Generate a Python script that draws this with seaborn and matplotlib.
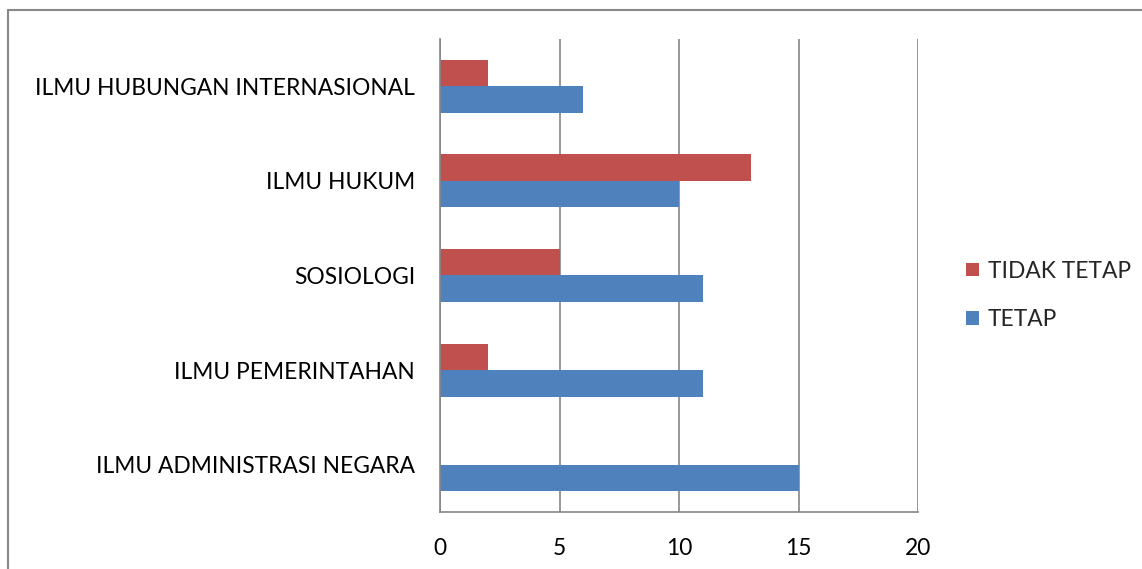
import matplotlib
matplotlib.use("Agg")
import matplotlib.pyplot as plt
import seaborn as sns
import pandas as pd
from matplotlib.lines import Line2D

categories = ["ILMU HUBUNGAN INTERNASIONAL", "ILMU HUKUM", "SOSIOLOGI",
              "ILMU PEMERINTAHAN", "ILMU ADMINISTRASI NEGARA"]
tidak_tetap = [2, 13, 5, 2, 0]
tetap = [6, 10, 11, 11, 15]
series_names = ["TIDAK TETAP", "TETAP"]
x_ticks = [0, 5, 10, 15, 20]

df = pd.DataFrame({
    "kategori": categories * 2,
    "nilai": tidak_tetap + tetap,
    "status": [series_names[0]] * len(categories) + [series_names[1]] * len(categories),
})

sns.set_style("white")
plt.rcParams["font.family"] = ["Lato", "DejaVu Sans"]

fig = plt.figure(figsize=(11.42, 5.69), dpi=100)
ax = fig.add_axes([0.3853, 0.1002, 0.4186, 0.8313])

sns.barplot(data=df, y="kategori", x="nilai", hue="status", order=categories,
            hue_order=series_names, palette=["#C0504D", "#4F81BD"],
            orient="h", width=0.56, linewidth=0, saturation=1, ax=ax)

ax.set_xlim(0, 20)
ax.set_xticks(x_ticks)
ax.set_xticklabels([str(t) for t in x_ticks])
ax.xaxis.grid(True, color="#868686", linewidth=1.2)
ax.yaxis.grid(False)
ax.set_axisbelow(True)
ax.set_xlabel("")
ax.set_ylabel("")
for s in ["top", "right"]:
    ax.spines[s].set_visible(False)
for s in ["left", "bottom"]:
    ax.spines[s].set_color("#868686")
    ax.spines[s].set_linewidth(1.2)
ax.tick_params(axis="y", length=0, pad=18, labelsize=16.4, colors="black")
ax.tick_params(axis="x", length=0, pad=19, labelsize=16.4, colors="black")

leg = ax.legend(loc="center left", bbox_to_anchor=(1.058, 0.458), frameon=False,
                fontsize=16.4, handlelength=0.55, handleheight=0.55,
                handletextpad=0.4, labelspacing=1.2)

# outer frame lines
fig.add_artist(Line2D([8 / 1142, 8 / 1142], [0, 1 - 10 / 569], transform=fig.transFigure,
                      color="#888888", linewidth=1.5))
fig.add_artist(Line2D([8 / 1142, 1], [1 - 10 / 569, 1 - 10 / 569], transform=fig.transFigure,
                      color="#888888", linewidth=1.5))

fig.savefig("out.png", dpi=100)
